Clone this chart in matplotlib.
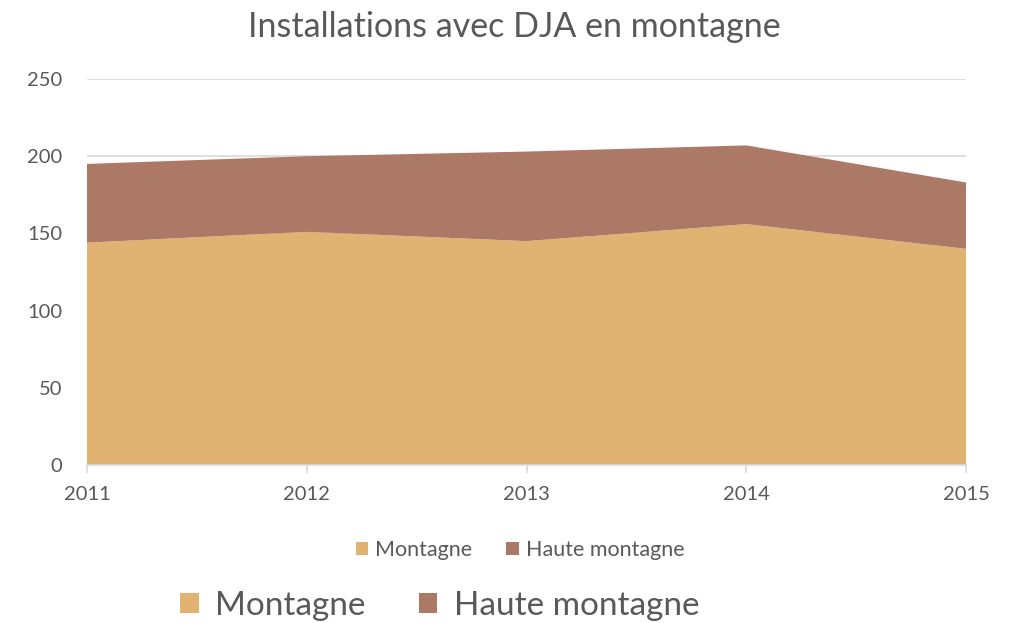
import matplotlib
matplotlib.use("Agg")
import matplotlib.pyplot as plt
from matplotlib.patches import Patch

plt.rcParams['font.family'] = ['Lato', 'DejaVu Sans']

years = [2011, 2012, 2013, 2014, 2015]
montagne = [144, 151, 145, 156, 140]
haute_montagne = [51, 49, 58, 51, 43]
series_names = ["Montagne", "Haute montagne"]
colors = ["#E0B373", "#AD7967"]
title = "Installations avec DJA en montagne"

fig = plt.figure(figsize=(10.12, 6.23), dpi=100)
W, H = 1012, 623
ax = fig.add_axes([87 / W, 1 - 465 / H, (966 - 87) / W, (465 - 79) / H])

ax.stackplot(years, montagne, haute_montagne, colors=colors, linewidth=0, zorder=2)
ax.set_xlim(2011, 2015)
ax.set_ylim(0, 250)
ax.set_yticks([0, 50, 100, 150, 200, 250])
ax.set_xticks(years)
ax.grid(axis='y', color='#D9D9D9', linewidth=1.2, zorder=1)
ax.set_axisbelow(True)
for s in ['top', 'right', 'left']:
    ax.spines[s].set_visible(False)
ax.spines['bottom'].set_color('#D9D9D9')
ax.spines['bottom'].set_linewidth(1.2)
ax.spines['bottom'].set_zorder(3)
ax.tick_params(axis='y', length=0, pad=18, labelsize=14.5, labelcolor='#595959')
ax.tick_params(axis='x', length=6, color='#D9D9D9', width=1.2, pad=9,
               labelsize=14.5, labelcolor='#595959')

fig.text(514 / W, 1 - 27 / H, title, ha='center', va='center',
         fontsize=24.5, color='#595959')

handles = [Patch(facecolor=c, edgecolor='none') for c in colors]
fig.legend(handles, series_names, loc='center', bbox_to_anchor=(520 / W, 1 - 550 / H),
           ncol=2, frameon=False, fontsize=15.5, labelcolor='#595959',
           handlelength=0.6, handleheight=0.6, handletextpad=0.3, columnspacing=1.6)
fig.legend(handles, series_names, loc='center', bbox_to_anchor=(440 / W, 1 - 606 / H),
           ncol=2, frameon=False, fontsize=24, labelcolor='#595959',
           handlelength=0.55, handleheight=0.55, handletextpad=0.5, columnspacing=1.6)

fig.savefig("out.png", dpi=100)
